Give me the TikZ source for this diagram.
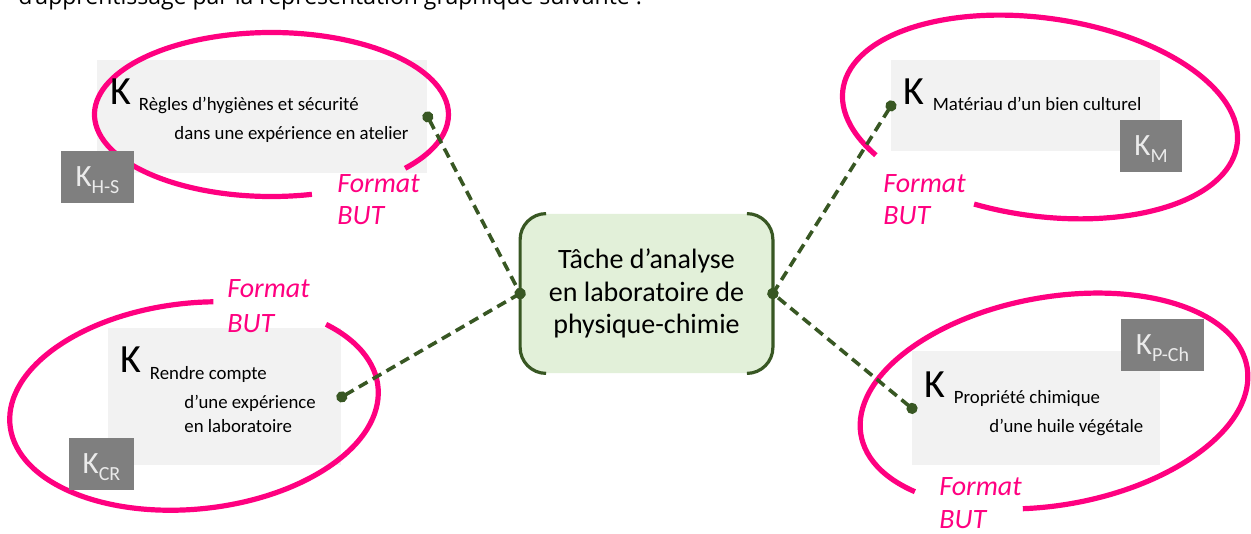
\documentclass[tikz,border=0pt]{standalone}
\usepackage{fontspec}
\setmainfont{Carlito}
\newfontfamily\introfont{Open Sans}
\usetikzlibrary{arrows.meta}
\definecolor{ringpink}{RGB}{255,0,128}
\definecolor{linkgreen}{RGB}{56,87,35}
\definecolor{taskgreen}{RGB}{226,240,217}
\definecolor{boxgrey}{RGB}{242,242,242}
\definecolor{taggrey}{RGB}{127,127,127}
\definecolor{tagtext}{RGB}{235,235,235}
\newcommand\ksub[1]{K\raisebox{-3.5pt}{\fontsize{10}{10}\selectfont #1}}

\begin{document}
\begin{tikzpicture}[x=0.5pt,y=-0.5pt,
    greybox/.style={fill=boxgrey,inner sep=0pt,anchor=north west},
    tag/.style={fill=taggrey,text=tagtext,inner sep=0pt,minimum height=26pt,text depth=0pt,font=\fontsize{15.5}{15.5}\selectfont},
    bigk/.style={anchor=base west,inner sep=0pt,font=\fontsize{20}{20}\selectfont},
    ktext/.style={anchor=base west,inner sep=0pt,font=\fontsize{9.4}{11}\selectfont},
    fmt/.style={anchor=base west,inner sep=0pt,text=ringpink,font=\fontsize{14}{16}\selectfont\itshape},
    ring/.style={draw=ringpink,line width=2.6pt},
    task/.style={fill=taskgreen,rounded corners=13pt,inner sep=0pt,minimum width=126pt,minimum height=79.5pt,align=center,font=\fontsize{14}{16.25}\selectfont},
    bracket/.style={draw=linkgreen,line width=1.6pt},
    link/.style={draw=linkgreen,line width=1.8pt,dash pattern=on 5pt off 3pt,{Circle[length=5.5pt]}-{Circle[length=5.5pt]},shorten <=-2.75pt,shorten >=-2.75pt}]
  \useasboundingbox (0,0) rectangle (1251,534);
  \clip (0,0) rectangle (1251,534);
  \node[anchor=base west,inner sep=0pt,font=\introfont\fontsize{11.5}{13}\selectfont] (intro) at (18,5) {d’apprentissage par la représentation graphique suivante :};

  \node[greybox,minimum width=165pt,minimum height=56.5pt] (hyg) at (97,60) {};
  \node[greybox,minimum width=134.5pt,minimum height=45.5pt] (mat) at (891,60) {};
  \node[greybox,minimum width=116.5pt,minimum height=68.5pt] (cr) at (108,328) {};
  \node[greybox,minimum width=124pt,minimum height=57pt] (pch) at (912,351) {};

  \draw[ring,shift={(271.5,114.5)}] (76.8:177 and 82) arc[start angle=76.8,end angle=401,x radius=177,y radius=82];
  \draw[ring,shift={(1040,117)},rotate=-8] (142.2:199 and 99) arc[start angle=142.2,end angle=465.5,x radius=199,y radius=99];
  \draw[ring,shift={(194,406)},rotate=6] (319.1:185 and 103) arc[start angle=319.1,end angle=639.4,x radius=185,y radius=103];
  \draw[ring,shift={(1054,401)},rotate=10] (141.2:196 and 104) arc[start angle=141.2,end angle=464.6,x radius=196,y radius=104];

  \node[tag,minimum width=36.5pt] (khs) at (97.5,177) {\ksub{H-S}};
  \node[tag,minimum width=31pt] (km) at (1151,146) {\ksub{M}};
  \node[tag,minimum width=32.5pt] (kcr) at (101.5,464) {\ksub{CR}};
  \node[tag,minimum width=41.5pt] (kpch) at (1162.5,345) {\ksub{P-Ch}};

  \node[bigk] (k1) at (110,105) {K};
  \node[ktext] (t1a) at (138.5,111) {Règles d’hygiènes et sécurité};
  \node[ktext] (t1b) at (174,140) {dans une expérience en atelier};
  \node[bigk] (k2) at (903,105) {K};
  \node[ktext] (t2a) at (932.5,111) {Matériau d’un bien culturel};
  \node[bigk] (k3) at (120,372) {K};
  \node[ktext] (t3a) at (149.5,379) {Rendre compte};
  \node[ktext] (t3b) at (184,408) {d’une expérience};
  \node[ktext] (t3c) at (184,432) {en laboratoire};
  \node[bigk] (k4) at (924,397) {K};
  \node[ktext] (t4a) at (953.5,403) {Propriété chimique};
  \node[ktext] (t4b) at (989,432) {d’une huile végétale};

  \node[fmt] (f1a) at (337,192) {Format};
  \node[fmt] (f1b) at (337,225) {BUT};
  \node[fmt] (f2a) at (883,192) {Format};
  \node[fmt] (f2b) at (883,225) {BUT};
  \node[fmt] (f3a) at (227,297) {Format};
  \node[fmt] (f3b) at (227,332) {BUT};
  \node[fmt] (f4a) at (939,495) {Format};
  \node[fmt] (f4b) at (939,528) {BUT};

  \node[task] (tache) at (646.5,293.5) {Tâche d’analyse\\en laboratoire de\\physique-chimie};
  \draw[bracket] ([xshift=13pt]tache.north west) arc[start angle=90,end angle=180,radius=13pt] -- ([yshift=13pt]tache.south west) arc[start angle=180,end angle=270,radius=13pt];
  \draw[bracket] ([xshift=-13pt]tache.north east) arc[start angle=90,end angle=0,radius=13pt] -- ([yshift=13pt]tache.south east) arc[start angle=0,end angle=-90,radius=13pt];

  \draw[link] (hyg.east) to (tache.west);
  \draw[link] (cr.east) to (tache.west);
  \draw[link] (mat.west) to (tache.east);
  \draw[link] (pch.west) to (tache.east);
\end{tikzpicture}
\end{document}
